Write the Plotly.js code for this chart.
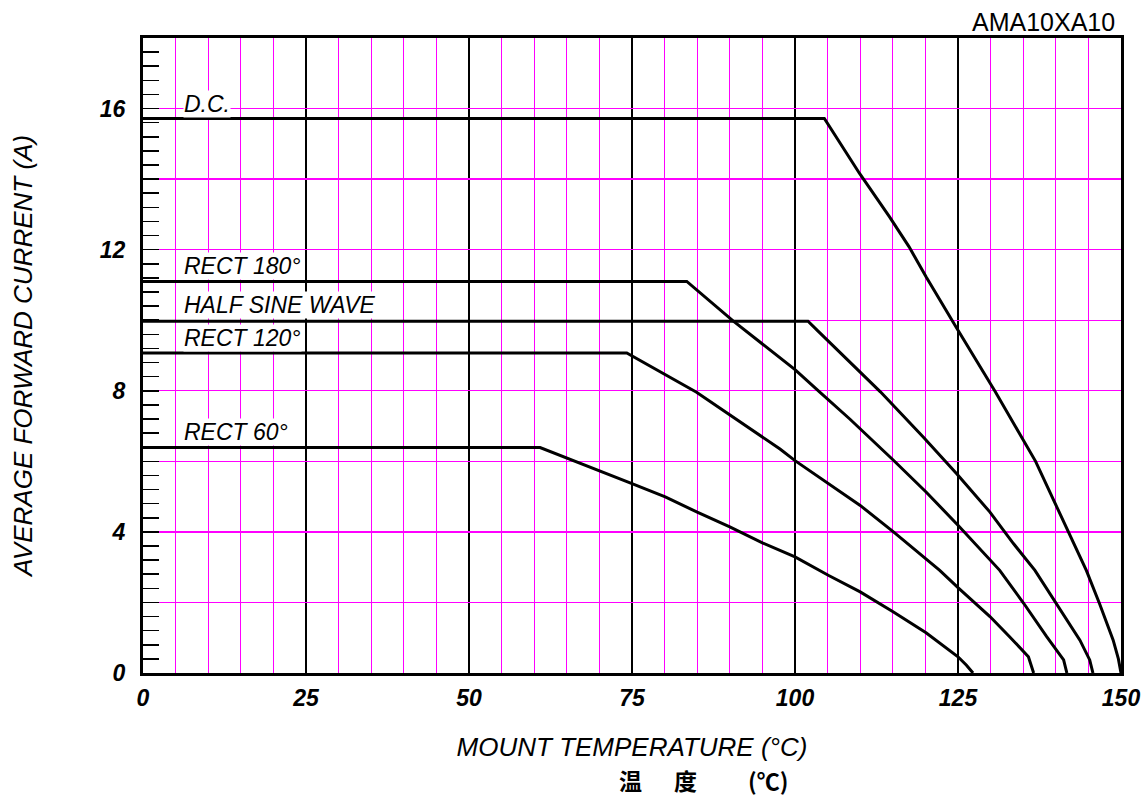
<!DOCTYPE html>
<html>
<head>
<meta charset="utf-8">
<script src="https://cdn.plot.ly/plotly-3.0.1.min.js"></script>
<style>html,body{margin:0;padding:0;background:#fff;}#chart{width:1145px;height:799px;}</style>
</head>
<body>
<div id="chart"></div>
<script>
// Derating curves: average forward current (A) vs mount temperature (°C)
const dcX   = [0, 104.5, 109.9, 114.5, 117.5, 120.1, 124.7, 130.7, 136.9, 142.0, 144.7, 146.7, 148.8, 149.6, 150];
const dcY   = [15.72, 15.72, 14.16, 12.93, 12.08, 11.23, 9.81, 7.98, 6.0, 4.0, 2.9, 1.97, 0.93, 0.4, 0];

const r180X = [0, 83.4, 90.5, 97.7, 100, 103.8, 108.4, 115.1, 120.1, 125, 129.9, 131.4, 135.1, 138.6, 141.2, 141.7];
const r180Y = [11.1, 11.1, 9.98, 8.93, 8.6, 7.96, 7.2, 6.03, 5.13, 4.19, 3.2, 2.91, 1.97, 1.03, 0.37, 0];

const halfX = [0, 102, 103.5, 110, 113.1, 119.7, 124.8, 129.9, 133.5, 136.8, 140.1, 143.7, 145.2, 145.7];
const halfY = [9.97, 9.97, 9.7, 8.52, 7.97, 6.68, 5.65, 4.56, 3.67, 2.91, 1.97, 0.93, 0.37, 0];

const r120X = [0, 74.2, 84.9, 97.7, 100, 105.1, 110, 115.1, 120.1, 122.2, 125, 127.6, 129.9, 132.8, 135.8, 136.6];
const r120Y = [9.07, 9.07, 7.96, 6.35, 6.02, 5.37, 4.75, 4.0, 3.25, 2.91, 2.42, 1.97, 1.6, 1.05, 0.46, 0];

const r60X  = [0, 60.9, 75, 80.1, 85, 90, 95, 100, 105.1, 110, 115.1, 120.1, 125, 126.3, 127.3];
const r60Y  = [6.39, 6.39, 5.37, 4.99, 4.56, 4.14, 3.69, 3.29, 2.77, 2.3, 1.73, 1.14, 0.46, 0.22, 0];

const curveNames = ['D.C.', 'RECT 180°', 'HALF SINE WAVE', 'RECT 120°', 'RECT 60°'];
const labelX = [6.1, 6.1, 6.1, 6.1, 6.1];
const labelY = [16.13, 11.53, 10.42, 9.50, 6.83];

const xTickVals = [0, 25, 50, 75, 100, 125, 150];
const xTickText = ['0', '25', '50', '75', '100', '125', '150'];
const yTickVals = [0, 2, 4, 6, 8, 10, 12, 14, 16, 18];
const yTickText = ['0', '', '4', '', '8', '', '12', '', '16', ''];

const partNo = 'AMA10XA10';
const xTitle = 'MOUNT TEMPERATURE (°C)';
const xTitleCnParts = ['温', '度', '(℃)'];
const xTitleCnPos = [0.4985, 0.5547, 0.6386];
const yTitle = 'AVERAGE FORWARD CURRENT (A)';

const FONT = 'Liberation Sans, Arial, Helvetica, sans-serif';
const CJK = 'Noto Sans CJK SC, Noto Sans CJK JP, sans-serif';
const MAGENTA = '#ff00ff';

const series = [[dcX, dcY], [r180X, r180Y], [halfX, halfY], [r120X, r120Y], [r60X, r60Y]];
const traces = series.map((s, i) => ({
  x: s[0], y: s[1], name: curveNames[i], type: 'scatter', mode: 'lines',
  line: {color: 'black', width: 3}, hoverinfo: 'skip'
}));

const annotations = curveNames.map((n, i) => ({
  x: labelX[i], y: labelY[i], xref: 'x', yref: 'y', text: n, showarrow: false,
  xanchor: 'left', yanchor: 'middle', bgcolor: 'white', borderpad: 0,
  font: {family: FONT, size: 23, style: 'italic', color: 'black'}
}));
annotations.push({
  x: 0.9959, y: 1.0252, xref: 'paper', yref: 'paper', text: partNo, showarrow: false,
  xanchor: 'right', yanchor: 'middle', font: {family: FONT, size: 25, color: 'black'}
});
xTitleCnParts.forEach((t, i) => {
  annotations.push({
    x: xTitleCnPos[i], y: -0.1685, xref: 'paper', yref: 'paper', text: t, showarrow: false,
    xanchor: 'center', yanchor: 'middle', borderpad: 0,
    font: {family: CJK, size: 23, weight: 'bold', color: 'black'}
  });
});

const layout = {
  width: 1145, height: 799,
  margin: {l: 143, r: 24, t: 38, b: 126, pad: 0},
  paper_bgcolor: 'white', plot_bgcolor: 'white',
  showlegend: false,
  font: {family: FONT, color: 'black'},
  xaxis: {
    range: [0, 150], tickmode: 'array', tickvals: xTickVals, ticktext: xTickText,
    ticks: '', showgrid: true, gridcolor: 'black', gridwidth: 2.5,
    minor: {dtick: 5, tick0: 0, showgrid: true, gridcolor: MAGENTA, gridwidth: 1.3, ticks: ''},
    showline: true, mirror: true, linecolor: 'black', linewidth: 3, zeroline: false,
    tickfont: {family: FONT, size: 23, style: 'italic', weight: 'bold', color: 'black'},
    ticklabelstandoff: 2,
    title: {text: xTitle, font: {family: FONT, size: 26, style: 'italic', color: 'black'}, standoff: 29},
    automargin: false, fixedrange: true
  },
  yaxis: {
    range: [0, 18], tickmode: 'array', tickvals: yTickVals, ticktext: yTickText,
    ticks: 'inside', ticklen: 16, tickwidth: 1.5, tickcolor: 'black',
    showgrid: true, gridcolor: MAGENTA, gridwidth: 1.3,
    minor: {dtick: 0.4, tick0: 0, ticks: 'inside', ticklen: 16, tickwidth: 1.5, tickcolor: 'black', showgrid: false},
    showline: true, mirror: true, linecolor: 'black', linewidth: 3, zeroline: false,
    tickfont: {family: FONT, size: 23, style: 'italic', weight: 'bold', color: 'black'},
    ticklabelstandoff: 10,
    title: {text: yTitle, font: {family: FONT, size: 26, style: 'italic', color: 'black'}, standoff: 60},
    automargin: false, fixedrange: true
  },
  annotations: annotations
};

Plotly.newPlot('chart', traces, layout, {displayModeBar: false, staticPlot: true});
</script>
</body>
</html>
